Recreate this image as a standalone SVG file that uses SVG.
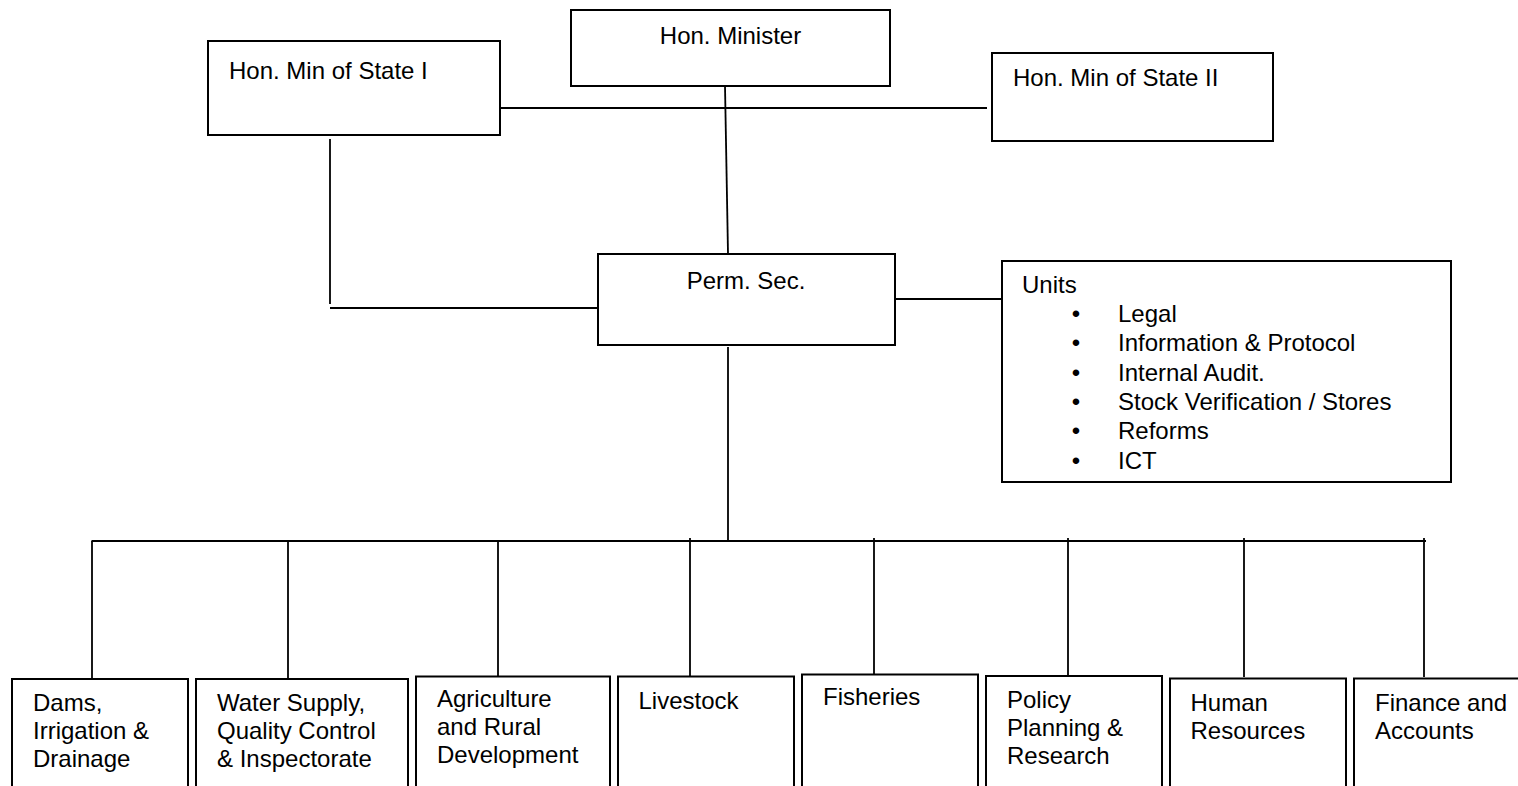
<svg xmlns="http://www.w3.org/2000/svg" width="1518" height="786" viewBox="0 0 1518 786">
<style>
  .box { fill: #ffffff; stroke: #000000; stroke-width: 2; }
  .ln { fill: none; stroke: #000000; stroke-width: 1.8; }
  text { font-family: "Liberation Sans", Arial, sans-serif; font-size: 24px; fill: #000000; }
  .c { text-anchor: middle; }
</style>
<rect x="0" y="0" width="1518" height="786" fill="#ffffff"/>
<g id="connectors">
  <line class="ln" x1="500" y1="108" x2="987" y2="108"/>
  <line class="ln" x1="725" y1="86" x2="728" y2="254"/>
  <line class="ln" x1="330" y1="139" x2="330" y2="304"/>
  <line class="ln" x1="330" y1="308" x2="598" y2="308"/>
  <line class="ln" x1="895" y1="299" x2="1002" y2="299"/>
  <line class="ln" x1="728" y1="347" x2="728" y2="541"/>
  <line class="ln" x1="91.5" y1="541" x2="1426" y2="541"/>
  <line class="ln" x1="92" y1="541" x2="92" y2="678"/>
  <line class="ln" x1="288" y1="541" x2="288" y2="680"/>
  <line class="ln" x1="498" y1="541" x2="498" y2="677"/>
  <line class="ln" x1="690" y1="538" x2="690" y2="676"/>
  <line class="ln" x1="874" y1="538" x2="874" y2="674"/>
  <line class="ln" x1="1068" y1="538" x2="1068" y2="676"/>
  <line class="ln" x1="1244" y1="538" x2="1244" y2="677"/>
  <line class="ln" x1="1424" y1="538" x2="1424" y2="677"/>
</g>
<g id="hon-minister">
  <rect class="box" x="571" y="10" width="319" height="76"/>
  <text class="c" x="730.5" y="43.5">Hon. Minister</text>
</g>
<g id="min-state-1">
  <rect class="box" x="208" y="41" width="292" height="94"/>
  <text x="229" y="78.5">Hon. Min of State I</text>
</g>
<g id="min-state-2">
  <rect class="box" x="992" y="53" width="281" height="88"/>
  <text x="1013" y="85.5">Hon. Min of State II</text>
</g>
<g id="perm-sec">
  <rect class="box" x="598" y="254" width="297" height="91"/>
  <text class="c" x="746" y="288.5">Perm. Sec.</text>
</g>
<g id="units">
  <rect class="box" x="1002" y="261" width="449" height="221"/>
  <text x="1022" y="292.5">Units</text>
  <text class="c" x="1076" y="322">•</text>
  <text x="1118" y="322">Legal</text>
  <text class="c" x="1076" y="351.3">•</text>
  <text x="1118" y="351.3">Information &amp; Protocol</text>
  <text class="c" x="1076" y="380.6">•</text>
  <text x="1118" y="380.6">Internal Audit.</text>
  <text class="c" x="1076" y="410">•</text>
  <text x="1118" y="410">Stock Verification / Stores</text>
  <text class="c" x="1076" y="439.3">•</text>
  <text x="1118" y="439.3">Reforms</text>
  <text class="c" x="1076" y="468.6">•</text>
  <text x="1118" y="468.6">ICT</text>
</g>
<g id="dams">
  <rect class="box" x="12" y="679" width="176" height="130"/>
  <text x="33" y="711">Dams,</text>
  <text x="33" y="739">Irrigation &amp;</text>
  <text x="33" y="767">Drainage</text>
</g>
<g id="water">
  <rect class="box" x="196" y="679" width="212" height="130"/>
  <text x="217" y="711">Water Supply,</text>
  <text x="217" y="739">Quality Control</text>
  <text x="217" y="767">&amp; Inspectorate</text>
</g>
<g id="agriculture">
  <rect class="box" x="416" y="676.5" width="194" height="130"/>
  <text x="437" y="707">Agriculture</text>
  <text x="437" y="735">and Rural</text>
  <text x="437" y="763">Development</text>
</g>
<g id="livestock">
  <rect class="box" x="618" y="676.5" width="176" height="130"/>
  <text x="638.5" y="708.5">Livestock</text>
</g>
<g id="fisheries">
  <rect class="box" x="802" y="674.5" width="176" height="130"/>
  <text x="823" y="705">Fisheries</text>
</g>
<g id="policy">
  <rect class="box" x="986" y="676" width="176" height="130"/>
  <text x="1007" y="708">Policy</text>
  <text x="1007" y="736">Planning &amp;</text>
  <text x="1007" y="764">Research</text>
</g>
<g id="human-resources">
  <rect class="box" x="1170" y="678.5" width="176" height="130"/>
  <text x="1190.5" y="711">Human</text>
  <text x="1190.5" y="738.5">Resources</text>
</g>
<g id="finance">
  <rect class="box" x="1354" y="678.5" width="176" height="130"/>
  <text x="1375" y="711">Finance and</text>
  <text x="1375" y="738.5">Accounts</text>
</g>
</svg>
